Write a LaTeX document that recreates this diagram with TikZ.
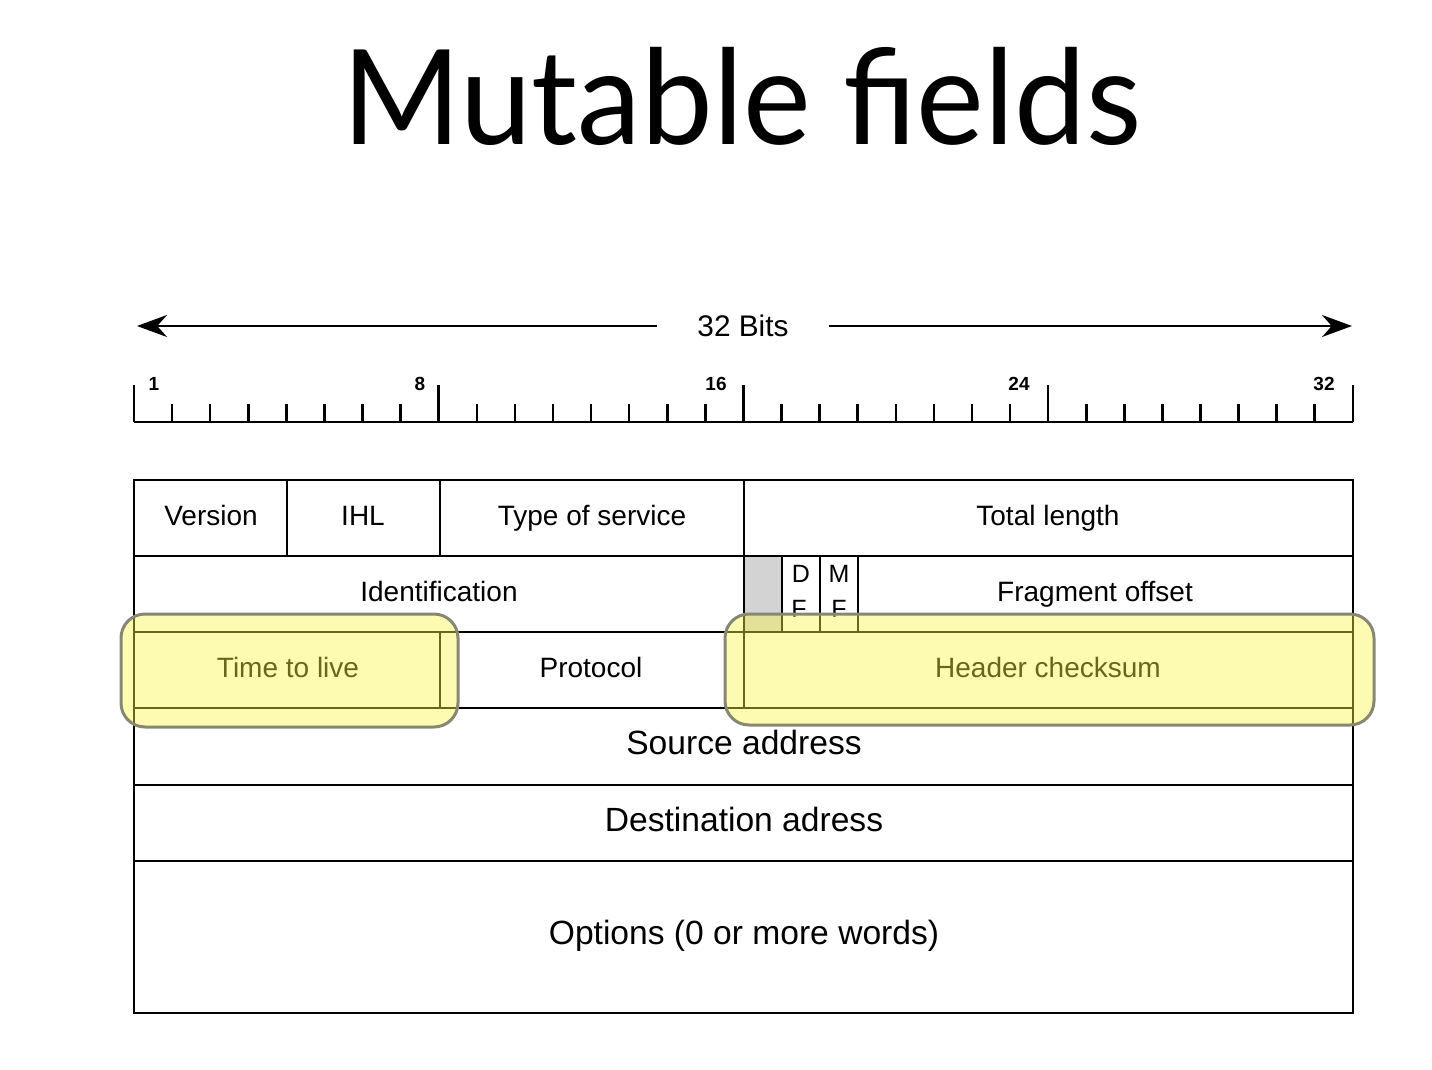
\documentclass[tikz,border=0pt]{standalone}
\usepackage{fontspec}
\setmainfont{Liberation Sans}
\newfontfamily\titlefont{Lato}
\usetikzlibrary{arrows.meta}
\definecolor{hlfill}{RGB}{250,245,70}
\definecolor{hlborder}{RGB}{135,135,115}
\definecolor{flaggray}{RGB}{211,211,211}
\tikzset{
  grid/.style={line width=1.25pt, draw=black},
  cellsmall/.style={font=\fontsize{14}{16}\selectfont, anchor=base, inner sep=0pt},
  cellbig/.style={font=\fontsize{16.8}{19}\selectfont, anchor=base, inner sep=0pt},
  flagtxt/.style={font=\fontsize{12.5}{14}\selectfont, anchor=base, inner sep=0pt},
  rulenum/.style={font=\bfseries\fontsize{9.5}{11}\selectfont, anchor=base, inner sep=0pt},
  highlight/.style={rounded corners=12pt, fill=hlfill, fill opacity=0.42, draw=hlborder, draw opacity=1, line width=1.5pt},
  bitarrow/.style={line width=1.2pt, -{Stealth[length=15pt,width=11pt]}}
}
\begin{document}
\begin{tikzpicture}[x=0.5pt,y=-0.5pt]
\useasboundingbox (0,0) rectangle (1432,1070);
% title
\node[font=\titlefont\fontsize{66}{76}\selectfont, anchor=base, inner sep=0pt] (title) at (742,145) {\scalebox{0.97}[1]{Mutable fields}};
% 32 bits arrow
\node[font=\fontsize{14.9}{17}\selectfont, anchor=base, inner xsep=20pt, inner ysep=0pt] (bits) at (743,336) {32 Bits};
\coordinate (arrL) at (137,326);
\coordinate (arrR) at (1352,326);
\draw[bitarrow] (bits.west |- arrL) -- (arrL);
\draw[bitarrow] (bits.east |- arrR) -- (arrR);
% ruler
\draw[line width=1.25pt] (134,422) -- (1353,422);
\foreach \i in {0,...,32}{
  \pgfmathtruncatemacro{\m}{mod(\i,8)}
  \ifnum\m=0
    \draw[line width=1.3pt] ({134+\i*38.09},422) -- ({134+\i*38.09},385);
  \else
    \draw[line width=1.3pt] ({134+\i*38.09},422) -- ({134+\i*38.09},404);
  \fi
}
\node[rulenum] (n1) at (154,390) {1};
\node[rulenum] (n8) at (420,390) {8};
\node[rulenum] (n16) at (716,390) {16};
\node[rulenum] (n24) at (1019,390) {24};
\node[rulenum] (n32) at (1324,390) {32};
% table
\fill[flaggray] (744,556) rectangle (782,632);
\draw[grid] (134,480) rectangle (1353,1013);
\foreach \y in {556,632,708,785,861}{\draw[grid] (134,\y) -- (1353,\y);}
\draw[grid] (287,480) -- (287,556);
\draw[grid] (440,480) -- (440,556);
\draw[grid] (744,480) -- (744,708);
\draw[grid] (782,556) -- (782,632);
\draw[grid] (820,556) -- (820,632);
\draw[grid] (858,556) -- (858,632);
\draw[grid] (440,632) -- (440,708);
\node[cellsmall] (version) at (211,525) {Version};
\node[cellsmall] (ihl) at (363,525) {IHL};
\node[cellsmall] (tos) at (592,525) {Type of service};
\node[cellsmall] (totlen) at (1048,525) {Total length};
\node[cellsmall] (ident) at (439,601) {Identification};
\begin{scope}
  \clip (782,556) rectangle (858,631);
  \node[flagtxt] (dfd) at (801,582) {D};
  \node[flagtxt] (dff) at (799,617) {F};
  \node[flagtxt] (mfm) at (839,582) {M};
  \node[flagtxt] (mff) at (839,617) {F};
\end{scope}
\node[cellsmall] (frag) at (1095,601) {Fragment offset};
\node[cellsmall] (ttl) at (288,677) {Time to live};
\node[cellsmall] (proto) at (591,677) {Protocol};
\node[cellsmall] (chk) at (1048,677) {Header checksum};
\node[cellbig] (src) at (744,754) {Source address};
\node[cellbig] (dst) at (744,831) {Destination adress};
\node[cellbig] (opt) at (744,944) {Options (0 or more words)};
% highlights
\draw[highlight] (121,614) rectangle (458,727);
\draw[highlight] (725,614) rectangle (1374,725);
\end{tikzpicture}
\end{document}
